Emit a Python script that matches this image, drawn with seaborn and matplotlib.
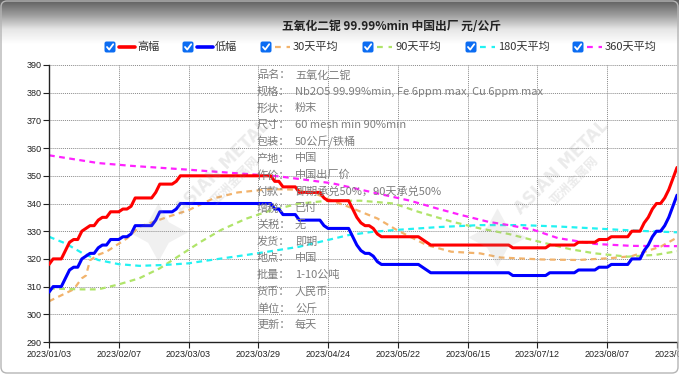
import numpy as np
import pandas as pd
import matplotlib
matplotlib.use("Agg")
import matplotlib.pyplot as plt
import seaborn as sns
from matplotlib.patches import FancyBboxPatch
from matplotlib.colors import LinearSegmentedColormap

# x axis is trading-day index, one tick label every 17 days
tick_labels = ['2023/01/03', '2023/02/07', '2023/03/03', '2023/03/29', '2023/04/24',
               '2023/05/22', '2023/06/15', '2023/07/12', '2023/08/07', '2023/09/01']

high = [
    318, 320, 320, 320, 323, 326, 327, 327, 330, 331, 332, 332, 334, 335, 335, 337, 337,
    337, 338, 338, 339, 342, 342, 342, 342, 342, 344, 347, 347, 347, 347, 348, 350, 350,
    350, 350, 350, 350, 350, 350, 350, 350, 350, 350, 350, 350, 350, 350, 350, 350, 350,
    350, 350, 350, 350, 348, 348, 346, 346, 346, 346, 344, 344, 344, 344, 344, 344, 342,
    341, 341, 341, 341, 341, 341, 338, 335, 333, 332, 332, 331, 329, 328, 328, 328, 328,
    328, 328, 328, 328, 328, 328, 327, 326, 325, 325, 325, 325, 325, 325, 325, 325, 325,
    325, 325, 325, 325, 325, 325, 325, 325, 325, 325, 325, 324, 324, 324, 324, 324, 324,
    324, 324, 324, 325, 325, 325, 325, 325, 325, 325, 326, 326, 326, 326, 326, 327, 327,
    327, 328, 328, 328, 328, 328, 330, 330, 330, 333, 335, 338, 340, 340, 342, 345, 349, 353,
]
low = [
    308, 310, 310, 310, 313, 316, 317, 317, 320, 321, 322, 322, 324, 325, 325, 327, 327,
    327, 328, 328, 329, 332, 332, 332, 332, 332, 334, 337, 337, 337, 337, 338, 340, 340,
    340, 340, 340, 340, 340, 340, 340, 340, 340, 340, 340, 340, 340, 340, 340, 340, 340,
    340, 340, 340, 340, 338, 338, 336, 336, 336, 336, 334, 334, 334, 334, 334, 334, 332,
    331, 331, 331, 331, 331, 331, 328, 325, 323, 322, 322, 321, 319, 318, 318, 318, 318,
    318, 318, 318, 318, 318, 318, 317, 316, 315, 315, 315, 315, 315, 315, 315, 315, 315,
    315, 315, 315, 315, 315, 315, 315, 315, 315, 315, 315, 314, 314, 314, 314, 314, 314,
    314, 314, 314, 315, 315, 315, 315, 315, 315, 315, 316, 316, 316, 316, 316, 317, 317,
    317, 318, 318, 318, 318, 318, 320, 320, 320, 323, 325, 328, 330, 330, 332, 335, 339, 343,
]

# moving averages, read at selected day indices
ma30_idx = [0, 6, 8, 9, 10, 12, 14, 19, 22, 29, 34, 40, 46, 54, 60, 65, 69, 73, 80, 85,
            92, 98, 105, 110, 120, 129, 137, 142, 146, 149, 153]
ma30 = [304.7, 309, 313, 314, 319.5, 321.5, 322.6, 327.4, 331.6, 335.2, 337.6, 341.8, 344,
        345.2, 345, 343.5, 341, 338.8, 334.6, 330.2, 325, 322.6, 322, 320.5, 319.8, 319.6,
        320.3, 321, 323, 324.4, 327.7]
ma90_idx = [0, 8, 12, 17, 22, 27, 32, 37, 42, 48, 54, 61, 68, 76, 84, 90, 98, 105, 112,
            120, 127, 133, 141, 148, 153]
ma90 = [309.3, 309, 309, 310.8, 313, 316.6, 321.4, 326.2, 330.5, 334.5, 337.5, 340, 341,
        341, 340, 337, 333.5, 331, 329, 326, 323.5, 322, 320.8, 321.5, 322.8]
ma180_idx = [0, 4, 8, 12, 17, 22, 28, 34, 38, 48, 55, 61, 67, 73, 79, 85, 95, 105, 115,
             124, 133, 139, 146, 153]
ma180 = [328, 325.6, 322.2, 319.6, 318.1, 317.5, 317.8, 318.4, 319.3, 321.4, 323, 324.4,
         326.5, 328.6, 329.8, 330.5, 331.5, 332.2, 332.2, 331.7, 331, 330.5, 330, 329.6]
ma360_idx = [0, 12, 20, 34, 45, 56, 69, 81, 88, 95, 100, 107, 112, 118, 124, 133, 142, 153]
ma360 = [357.4, 354.6, 353.6, 352.2, 351, 349.8, 347.3, 343.3, 341, 338, 336, 333.4,
         332.2, 330.5, 327.5, 325.4, 324.7, 324.6]

info_keys = ['品名：', '规格：', '形状：', '尺寸：', '包装：', '产地：', '作价：', '付款：',
             '增税：', '关税：', '发货：', '地点：', '批量：', '货币：', '单位：', '更新：']
info_vals = ['五氧化二铌', 'Nb2O5 99.99%min, Fe 6ppm max, Cu 6ppm max', '粉末',
             '60 mesh min 90%min', '50公斤/铁桶', '中国', '中国出厂价',
             '即期承兑50%，90天承兑50%', '已付', '无', '即期', '中国', '1-10公吨',
             '人民币', '公斤', '每天']

title = '五氧化二铌 99.99%min 中国出厂 元/公斤'
legend_names = ['高幅', '低幅', '30天平均', '90天平均', '180天平均', '360天平均']

sns.set_theme(style="white")
plt.rcParams['font.family'] = ['Noto Sans CJK SC', 'DejaVu Sans']

W, H = 679, 375
fig = plt.figure(figsize=(W / 100, H / 100), dpi=100)
fig.patch.set_facecolor('white')

# grey gradient header
hdr = fig.add_axes([0, 1 - 44 / H, 1, 44 / H], zorder=0)
cmap = LinearSegmentedColormap.from_list('hdr', ['#5e5e5e', '#9c9c9c', '#e6e6e6', '#ffffff'])
hdr.imshow(np.linspace(0, 1, 100)[:, None], aspect='auto', cmap=cmap, extent=[0, 1, 0, 1])
hdr.axis('off')

ax = fig.add_axes([49 / W, 1 - 342 / H, 628 / W, 277 / H], zorder=1)
ax.set_facecolor('none')

day_idx = np.arange(len(high))
df = pd.DataFrame({'day': day_idx, 'high': high, 'low': low})

dash = (0, (2.6, 2.0))
ma_series = [(ma30_idx, ma30, '#f2b36c'), (ma90_idx, ma90, '#b0e46a'),
             (ma180_idx, ma180, '#22f2f2'), (ma360_idx, ma360, '#ff22ff')]
for xs, ys, c in ma_series:
    sns.lineplot(x=xs, y=ys, ax=ax, color=c, linewidth=1.6, linestyle=dash,
                 errorbar=None, legend=False, zorder=2)

sns.lineplot(data=df, x='day', y='low', ax=ax, color='#0000ff', linewidth=2.2,
             errorbar=None, legend=False, zorder=3, solid_joinstyle='round')
sns.lineplot(data=df, x='day', y='high', ax=ax, color='#ff0000', linewidth=2.2,
             errorbar=None, legend=False, zorder=3, solid_joinstyle='round')

ax.set_xlim(0, len(high) - 1)
ax.set_ylim(290, 390)
ax.set_xticks(np.arange(0, len(high), 17))
ax.set_xticklabels(tick_labels)
ax.set_yticks(np.arange(290, 391, 10))
ax.set_xlabel('')
ax.set_ylabel('')
ax.grid(True, color='#8a8a8a', linestyle=(0, (1, 1)), linewidth=0.7)
for s in ['top', 'right']:
    ax.spines[s].set_visible(False)
for s in ['left', 'bottom']:
    ax.spines[s].set_color('#222222')
    ax.spines[s].set_linewidth(1.0)
ax.tick_params(axis='both', direction='out', length=4, width=0.8, color='#222222',
               labelsize=6.5, labelcolor='#222222', pad=1.5,
               left=True, bottom=True)
for lbl in ax.get_xticklabels() + ax.get_yticklabels():
    lbl.set_fontfamily('Liberation Sans')

# overlay in pixel coordinates for title, legend, info block and watermark
ov = fig.add_axes([0, 0, 1, 1], zorder=5)
ov.set_xlim(0, W)
ov.set_ylim(H, 0)
ov.axis('off')
ov.patch.set_alpha(0)

ov.text(391, 26, title, ha='center', va='center', fontsize=8.5, fontweight='bold',
        color='#222222')

leg_x = [110, 188, 266, 368, 471, 578]
leg_y = 47
leg_colors = ['#ff0000', '#0000ff', '#f2b36c', '#b0e46a', '#22f2f2', '#ff22ff']
for i, (x, name, c) in enumerate(zip(leg_x, legend_names, leg_colors)):
    ov.add_patch(FancyBboxPatch((x - 5.5, leg_y - 5.5), 11, 11,
                                boxstyle='round,pad=0,rounding_size=2',
                                fc='#0b6cf2', ec='none'))
    ov.plot([x - 3, x - 0.8, x + 3.2], [leg_y, leg_y + 2.6, leg_y - 2.8],
            color='white', lw=1.3, solid_capstyle='round')
    if i < 2:
        ov.plot([x + 9, x + 25], [leg_y, leg_y], color=c, lw=2.6)
    else:
        ov.plot([x + 9, x + 24], [leg_y, leg_y], color=c, lw=1.6, linestyle=(0, (2.6, 2.6)))
    ov.text(x + 27, leg_y, name, va='center', ha='left', fontsize=8, color='#333333')

for i, (k, v) in enumerate(zip(info_keys, info_vals)):
    y = 75 + i * 16.67
    ov.text(257, y, k, va='center', ha='left', fontsize=8, color='#7d7d7d')
    ov.text(295, y, v, va='center', ha='left', fontsize=8, color='#7d7d7d')

# faint watermarks
for cx, cy, sx, sy in [(223, 167, 158, 232), (562, 167, 497, 237)]:
    ov.text(cx, cy, 'ASIAN METAL', rotation=45, ha='center', va='center',
            fontsize=12, fontweight='bold', color='#909090', alpha=0.18,
            family=['DejaVu Sans'])
    ov.text(cx + 13, cy + 14, '亚洲金属网', rotation=45, ha='center', va='center',
            fontsize=9, fontweight='bold', color='#909090', alpha=0.18)
    ov.plot([sx], [sy], marker=(4, 1, 0), ms=42, color='#a0a0a0', alpha=0.15, mew=0)

ov.add_patch(FancyBboxPatch((1, 1), W - 2, H - 3, boxstyle='round,pad=0,rounding_size=6',
                            fc='none', ec='#b5b5b5', lw=1))

fig.savefig('out.png', dpi=100)
